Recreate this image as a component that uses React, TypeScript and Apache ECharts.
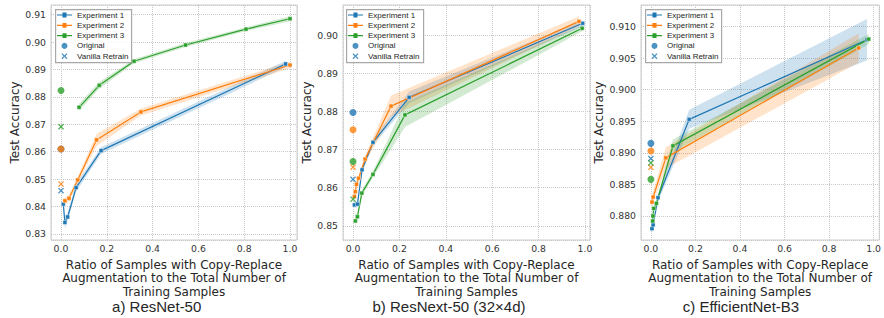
import React, { useEffect, useRef } from 'react';
import * as echarts from 'echarts';

const BLUE = '#1f77b4';
const ORANGE = '#ff7f0e';
const GREEN = '#2ca02c';
const COLORS = [BLUE, ORANGE, GREEN];
const EXP_NAMES = ['Experiment 1', 'Experiment 2', 'Experiment 3'];
const XPATH = 'path://M0,1.5L1.5,0L5,3.5L8.5,0L10,1.5L6.5,5L10,8.5L8.5,10L5,6.5L1.5,10L0,8.5L3.5,5Z';
const LINE_ICON = 'path://M0,2.4H5.5V0.6H9.5V2.4H15V3.6H9.5V5.4H5.5V3.6H0Z';

const X_TITLE = 'Ratio of Samples with Copy-Replace\nAugmentation to the Total Number of\nTraining Samples';
const Y_TITLE = 'Test Accuracy';
const CAPTIONS = ['a) ResNet-50', 'b) ResNext-50 (32×4d)', 'c) EfficientNet-B3'];

// ---- Panel a: ResNet-50 ----
const aExp1X = [0.010, 0.017, 0.029, 0.066, 0.175, 0.981];
const aExp1Y = [0.8409, 0.8342, 0.8362, 0.8469, 0.8604, 0.8920];
const aExp1Err = [0.0012, 0.0022, 0.0015, 0.0015, 0.0012, 0.0012];
const aExp2X = [0.017, 0.035, 0.073, 0.155, 0.349, 1.0];
const aExp2Y = [0.8421, 0.8430, 0.8497, 0.8643, 0.8745, 0.8916];
const aExp2Err = [0.0012, 0.0012, 0.0012, 0.0022, 0.0013, 0.0012];
const aExp3X = [0.079, 0.167, 0.319, 0.544, 0.808, 1.0];
const aExp3Y = [0.8762, 0.8842, 0.8930, 0.8989, 0.9047, 0.9085];
const aExp3Err = [0.0013, 0.0012, 0.0007, 0.0007, 0.0007, 0.0009];
const aOriginal = [0.861, 0.861, 0.8823];
const aVanilla = [0.8458, 0.8482, 0.8691];

// ---- Panel b: ResNext-50 ----
const bExp1X = [0.006, 0.019, 0.039, 0.086, 0.242, 0.99];
const bExp1Y = [0.8555, 0.8557, 0.8647, 0.8719, 0.8837, 0.9031];
const bExp1Err = [0.0008, 0.0008, 0.0008, 0.0008, 0.0015, 0.0008];
const bExp2X = [0.006, 0.010, 0.015, 0.024, 0.052, 0.164, 0.974];
const bExp2Y = [0.8577, 0.8590, 0.8609, 0.8625, 0.8675, 0.8814, 0.9036];
const bExp2Err = [0.0008, 0.0008, 0.0008, 0.0008, 0.0008, 0.0028, 0.0013];
const bExp3X = [0.010, 0.019, 0.038, 0.086, 0.224, 0.988];
const bExp3Y = [0.8513, 0.8524, 0.8586, 0.8635, 0.8791, 0.9018];
const bExp3Err = [0.0018, 0.0008, 0.0008, 0.0008, 0.0032, 0.0008];
const bOriginal = [0.8797, 0.8752, 0.8669];
const bVanilla = [0.8622, 0.8654, 0.8570];

// ---- Panel c: EfficientNet-B3 ----
const cExp1X = [0.005, 0.010, 0.032, 0.172, 0.970];
const cExp1Y = [0.8780, 0.8786, 0.8829, 0.8953, 0.9079];
const cExp1Err = [0.0006, 0.0006, 0.0006, 0.0015, 0.0033];
const cExp2X = [0.005, 0.010, 0.067, 0.933];
const cExp2Y = [0.8822, 0.8830, 0.8892, 0.9066];
const cExp2Err = [0.0008, 0.0008, 0.0017, 0.0023];
const cExp3X = [0.008, 0.009, 0.013, 0.025, 0.099, 0.978];
const cExp3Y = [0.8792, 0.8800, 0.8812, 0.8820, 0.8911, 0.9080];
const cExp3Err = [0.0005, 0.0005, 0.0005, 0.0005, 0.0010, 0.0008];
const cOriginal = [0.8915, 0.8903, 0.8858];
const cVanilla = [0.8891, 0.8877, 0.8884];

const panels = [
  {
    exps: [
      { x: aExp1X, y: aExp1Y, err: aExp1Err },
      { x: aExp2X, y: aExp2Y, err: aExp2Err },
      { x: aExp3X, y: aExp3Y, err: aExp3Err },
    ],
    orig: aOriginal, van: aVanilla,
    grid: { left: 51, top: 5, width: 246, height: 235 },
    xr: [-0.0437, 1.0306], yr: [0.8278, 0.9135], yStep: 0.01, yDec: 2,
    nameGap: 25, legendLeft: 55, legendW: 76, caption: 156.7,
  },
  {
    exps: [
      { x: bExp1X, y: bExp1Y, err: bExp1Err },
      { x: bExp2X, y: bExp2Y, err: bExp2Err },
      { x: bExp3X, y: bExp3Y, err: bExp3Err },
    ],
    orig: bOriginal, van: bVanilla,
    grid: { left: 343, top: 5, width: 247, height: 235 },
    xr: [-0.0432, 1.0216], yr: [0.8463, 0.9079], yStep: 0.01, yDec: 2,
    nameGap: 25, legendLeft: 346, legendW: 77, caption: 449,
  },
  {
    exps: [
      { x: cExp1X, y: cExp1Y, err: cExp1Err },
      { x: cExp2X, y: cExp2Y, err: cExp2Err },
      { x: cExp3X, y: cExp3Y, err: cExp3Err },
    ],
    orig: cOriginal, van: cVanilla,
    grid: { left: 641, top: 5, width: 241, height: 235 },
    xr: [-0.0444, 1.0253], yr: [0.8762, 0.9134], yStep: 0.005, yDec: 3,
    nameGap: 30, legendLeft: 645, legendW: 76, caption: 741,
  },
];

function buildOption() {
  const grids: any[] = [];
  const xAxes: any[] = [];
  const yAxes: any[] = [];
  const series: any[] = [];
  const legends: any[] = [];
  const graphics: any[] = [];

  panels.forEach((p, idx) => {
    grids.push({ ...p.grid, show: true, borderColor: '#cccccc', borderWidth: 1, backgroundColor: 'transparent' });
    xAxes.push({
      type: 'value', gridIndex: idx, min: p.xr[0], max: p.xr[1],
      splitNumber: 5, minInterval: 0.2, maxInterval: 0.2,
      axisLine: { show: false }, axisTick: { show: false },
      axisLabel: {
        showMinLabel: false, showMaxLabel: false, margin: 4,
        formatter: (v: number) => v.toFixed(1),
        fontFamily: 'DejaVu Sans', fontSize: 9.3, color: '#333',
      },
      splitLine: { show: true, lineStyle: { color: '#c8c8c8', type: 'dotted', width: 1 } },
      name: X_TITLE, nameLocation: 'middle', nameGap: 11,
      nameTextStyle: { fontFamily: 'DejaVu Sans', fontSize: 12, lineHeight: 13.6, color: '#262626' },
    });
    const span = p.yr[1] - p.yr[0];
    yAxes.push({
      type: 'value', gridIndex: idx, min: p.yr[0], max: p.yr[1],
      splitNumber: Math.round(span / p.yStep), minInterval: p.yStep, maxInterval: p.yStep,
      axisLine: { show: false }, axisTick: { show: false },
      axisLabel: {
        showMinLabel: false, showMaxLabel: false, margin: 5,
        formatter: (v: number) => v.toFixed(p.yDec),
        fontFamily: 'DejaVu Sans', fontSize: 9.3, color: '#333',
      },
      splitLine: { show: true, lineStyle: { color: '#c8c8c8', type: 'dotted', width: 1 } },
      name: Y_TITLE, nameLocation: 'middle', nameGap: p.nameGap,
      nameTextStyle: { fontFamily: 'DejaVu Sans', fontSize: 12, color: '#262626' },
    });

    p.exps.forEach((e, k) => {
      const color = COLORS[k];
      series.push({
        type: 'custom', name: EXP_NAMES[k] + ' band ' + idx, xAxisIndex: idx, yAxisIndex: idx,
        silent: true, z: 1, data: [[e.x[0], e.y[0]]],
        renderItem: (_params: any, api: any) => {
          const up = e.x.map((x, i) => api.coord([x, e.y[i] + e.err[i]]));
          const lo = e.x.map((x, i) => api.coord([x, e.y[i] - e.err[i]])).reverse();
          return { type: 'polygon', shape: { points: up.concat(lo) }, style: { fill: color, opacity: 0.22 } };
        },
      });
    });
    p.exps.forEach((e, k) => {
      const color = COLORS[k];
      series.push({
        type: 'line', name: EXP_NAMES[k], xAxisIndex: idx, yAxisIndex: idx, z: 3,
        data: e.x.map((x, i) => [x, e.y[i]]),
        symbol: 'rect', symbolSize: 4, showSymbol: true,
        lineStyle: { width: 1.2, color, type: 'solid' },
        itemStyle: { color, borderColor: '#fff', borderWidth: 0.4 },
        silent: true,
      });
    });
    series.push({
      type: 'scatter', name: 'Original', xAxisIndex: idx, yAxisIndex: idx, z: 4,
      symbol: 'circle', symbolSize: 7, itemStyle: { color: BLUE }, silent: true,
      data: p.orig.map((v, k) => ({ value: [0, v], itemStyle: { color: COLORS[k] } })),
    });
    series.push({
      type: 'scatter', name: 'Vanilla Retrain', xAxisIndex: idx, yAxisIndex: idx, z: 4,
      symbol: XPATH, symbolSize: 6, itemStyle: { color: BLUE }, silent: true,
      data: p.van.map((v, k) => ({ value: [0, v], itemStyle: { color: COLORS[k] } })),
    });

    legends.push({
      left: p.legendLeft, top: 9, orient: 'vertical',
      padding: [1, 3, 1, 2], itemGap: 0.3, itemWidth: 15, itemHeight: 6,
      backgroundColor: 'transparent', borderWidth: 0,
      selectedMode: false, z: 20,
      textStyle: { fontFamily: 'Liberation Sans', fontSize: 8, lineHeight: 10, color: '#262626' },
      data: [
        { name: 'Experiment 1', icon: LINE_ICON, itemStyle: { color: BLUE, borderWidth: 0 } },
        { name: 'Experiment 2', icon: LINE_ICON, itemStyle: { color: ORANGE, borderWidth: 0 } },
        { name: 'Experiment 3', icon: LINE_ICON, itemStyle: { color: GREEN, borderWidth: 0 } },
        { name: 'Original', icon: 'circle', itemStyle: { color: BLUE } },
        { name: 'Vanilla Retrain', icon: XPATH, itemStyle: { color: BLUE } },
      ],
    });

    graphics.push({
      type: 'rect', z: 15, left: p.legendLeft, top: 9,
      shape: { width: p.legendW, height: 53 },
      style: { fill: 'rgba(255,255,255,0.85)', stroke: '#a8a8a8', lineWidth: 1.2 },
      silent: true,
    });
    graphics.push({
      type: 'text', x: p.caption, y: 306.7,
      style: {
        text: CAPTIONS[idx], fontFamily: 'Liberation Sans', fontSize: 15, fill: '#262626',
        align: 'center', verticalAlign: 'middle',
      },
    });
  });

  return {
    animation: false,
    backgroundColor: '#fff',
    grid: grids,
    xAxis: xAxes,
    yAxis: yAxes,
    series,
    legend: legends,
    graphic: graphics,
  };
}

export default function App() {
  const ref = useRef<HTMLDivElement>(null);
  useEffect(() => {
    document.body.style.margin = '0';
    if (!ref.current) return;
    const chart = echarts.init(ref.current, undefined, { renderer: 'svg' });
    chart.setOption(buildOption() as any);
    return () => chart.dispose();
  }, []);
  return <div ref={ref} style={{ width: 884, height: 318 }} />;
}
